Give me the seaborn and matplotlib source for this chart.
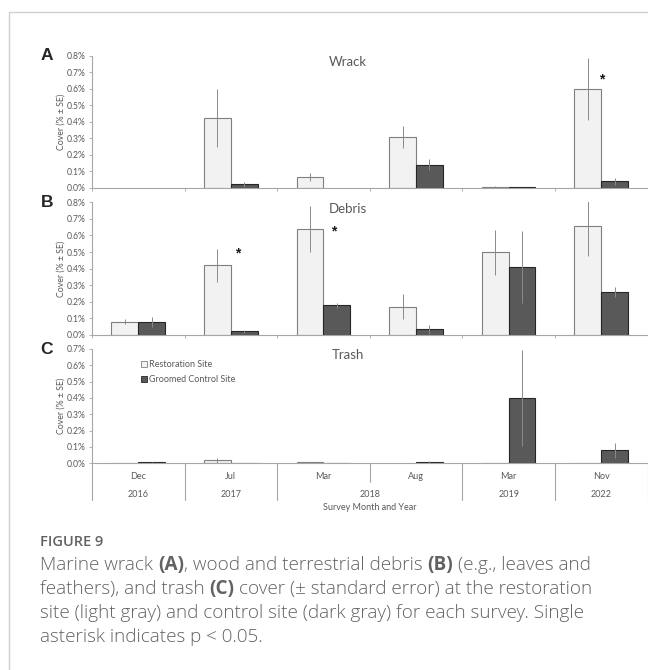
import numpy as np
import pandas as pd
import matplotlib
matplotlib.use("Agg")
import matplotlib.pyplot as plt
import seaborn as sns
from matplotlib.ticker import FuncFormatter, FixedLocator, MultipleLocator
from matplotlib.lines import Line2D
from matplotlib.transforms import blended_transform_factory

# ---------------- data ----------------
months = ["Dec", "Jul", "Mar", "Aug", "Mar", "Nov"]
years = ["2016", "2017", "2018", "2018", "2019", "2022"]
sites = ["Restoration Site", "Groomed Control Site"]

wrack_rest = [0.0, 0.423, 0.067, 0.307, 0.007, 0.600]
wrack_rest_se = [0.0, 0.175, 0.024, 0.068, 0.003, 0.188]
wrack_ctrl = [0.0, 0.020, 0.0, 0.140, 0.004, 0.038]
wrack_ctrl_se = [0.0, 0.014, 0.0, 0.035, 0.002, 0.022]

debris_rest = [0.080, 0.420, 0.639, 0.171, 0.498, 0.659]
debris_rest_se = [0.014, 0.100, 0.136, 0.075, 0.137, 0.183]
debris_ctrl = [0.080, 0.022, 0.179, 0.036, 0.410, 0.259]
debris_ctrl_se = [0.030, 0.008, 0.015, 0.027, 0.216, 0.030]

trash_rest = [0.003, 0.018, 0.006, 0.0, 0.003, 0.003]
trash_rest_se = [0.001, 0.016, 0.002, 0.0, 0.001, 0.001]
trash_ctrl = [0.006, 0.003, 0.003, 0.008, 0.400, 0.080]
trash_ctrl_se = [0.002, 0.001, 0.001, 0.004, 0.295, 0.045]

panel_titles = ["Wrack", "Debris", "Trash"]
panel_letters = ["A", "B", "C"]
panel_ymax = [0.8, 0.8, 0.7]

# significance markers: (panel index, survey index, x shift, y height)
sig_marks = [(0, 5, 0.01, 0.657), (1, 1, 0.07, 0.49), (1, 2, 0.11, 0.627)]

# ---------------- style ----------------
sns.set_style("white")
plt.rcParams["font.family"] = ["Lato", "DejaVu Sans"]

LIGHT = "#f2f2f2"
DARK = "#595959"
LIGHT_EDGE = "#7f7f7f"
DARK_EDGE = "#262626"
AXC = "#a6a6a6"
TXT = "#595959"

W, H = 648, 670
fig = plt.figure(figsize=(W / 100, H / 100), dpi=100)


def fx(px):
    return px / W


def fy(py):
    return 1 - py / H


left_px, right_px = 92, 647.5
panel_px = [(55.7, 187.7), (202.3, 335.0), (349.0, 463.3)]

keys = [f"{m} {y}" for m, y in zip(months, years)]
series = [
    (wrack_rest, wrack_rest_se, wrack_ctrl, wrack_ctrl_se),
    (debris_rest, debris_rest_se, debris_ctrl, debris_ctrl_se),
    (trash_rest, trash_rest_se, trash_ctrl, trash_ctrl_se),
]

axes = []
for i, ((top, bot), (r, rse, c, cse)) in enumerate(zip(panel_px, series)):
    ax = fig.add_axes([fx(left_px), fy(bot), fx(right_px) - fx(left_px), fy(top) - fy(bot)])
    axes.append(ax)
    df = pd.DataFrame({
        "survey": keys * 2,
        "site": [sites[0]] * len(keys) + [sites[1]] * len(keys),
        "cover": list(r) + list(c),
    })
    sns.barplot(data=df, x="survey", y="cover", hue="site", order=keys,
                hue_order=sites, palette=[LIGHT, DARK], width=0.58,
                errorbar=None, saturation=1, ax=ax, legend=(i == 2))
    for cont, ecol, means, ses in zip(ax.containers, [LIGHT_EDGE, DARK_EDGE], [r, c], [rse, cse]):
        xs, ms, es = [], [], []
        for bar, m, s in zip(cont, means, ses):
            bar.set_edgecolor(ecol)
            bar.set_linewidth(0.8 if m > 0 else 0)
            if s > 0:
                xs.append(bar.get_x() + bar.get_width() / 2)
                ms.append(m)
                es.append(s)
        ax.errorbar(xs, ms, yerr=es, fmt="none", ecolor="#8a8a8a", elinewidth=0.7,
                    capsize=0, zorder=5)

    ax.set_xlim(-0.5, len(keys) - 0.5)
    ax.set_ylim(0, panel_ymax[i])
    ax.yaxis.set_major_locator(MultipleLocator(0.1))
    ax.yaxis.set_major_formatter(FuncFormatter(lambda v, p: f"{v:.1f}%"))
    ax.xaxis.set_major_locator(FixedLocator(np.arange(-0.5, len(keys))))
    ax.set_xticklabels([])
    ax.set_xlabel("")
    ax.set_ylabel("Cover (% ± SE)", fontsize=6.3, color=TXT)
    ax.yaxis.set_label_coords(-0.047, 0.5)
    for s in ["top", "right"]:
        ax.spines[s].set_visible(False)
    for s in ["left", "bottom"]:
        ax.spines[s].set_color(AXC)
        ax.spines[s].set_linewidth(0.8)
    ax.tick_params(axis="y", length=2.5, width=0.6, color=AXC, labelsize=6.2,
                   labelcolor=TXT, pad=2, left=True)
    ax.tick_params(axis="x", length=2.5 if i < 2 else 0, width=0.6, color=AXC, bottom=True)
    ax.text(0.46, 0.95, panel_titles[i], transform=ax.transAxes, ha="center",
            va="center", fontsize=9.5, color=TXT)
    fig.text(fx(46.7), fy(top), panel_letters[i], ha="center", va="center",
             fontsize=12.5, fontweight="bold", family=["Liberation Sans", "DejaVu Sans"])

# significance asterisks
for pi, si, dx, yy in sig_marks:
    axes[pi].text(si + dx, yy, "*", ha="center", va="center", fontsize=10,
                  fontweight="bold", color="#1a1a1a",
                  family=["Liberation Sans", "DejaVu Sans"])

# legend in panel C
axC = axes[2]
old = axC.get_legend()
handles = old.legend_handles
for h, ec in zip(handles, [LIGHT_EDGE, DARK_EDGE]):
    h.set_edgecolor(ec)
    h.set_linewidth(0.6)
labels = [t.get_text() for t in old.get_texts()]
old.remove()
leg = axC.legend(handles, labels, loc="upper left", bbox_to_anchor=(0.088, 0.905),
                 frameon=False, fontsize=6.5, handlelength=0.7, handleheight=0.7,
                 handletextpad=0.25, labelspacing=0.7, borderpad=0, borderaxespad=0)
for t in leg.get_texts():
    t.set_color(TXT)

# multi-level category axis for panel C
trans = blended_transform_factory(axC.transData, axC.transAxes)
ax_h = panel_px[2][1] - panel_px[2][0]
base = panel_px[2][1]


def yfrac(py):
    return (base - py) / ax_h


y_month, y_year, y_lab = yfrac(476.7), yfrac(494.3), yfrac(508.0)
y_short, y_long = yfrac(481.7), yfrac(500.0)
for k, m in enumerate(months):
    axC.text(k, y_month, m, transform=trans, ha="center", va="center", fontsize=6.5, color=TXT)
# year spans
spans = []
start = 0
for k in range(1, len(years) + 1):
    if k == len(years) or years[k] != years[start]:
        spans.append((start, k - 1, years[start]))
        start = k
for a, b, yr in spans:
    axC.text((a + b) / 2, y_year, yr, transform=trans, ha="center", va="center",
             fontsize=6.5, color=TXT)
for k in range(len(months) + 1):
    bx = k - 0.5
    is_year_boundary = (k == 0 or k == len(years) or years[k] != years[k - 1])
    y_end = y_long if is_year_boundary else y_short
    axC.add_line(Line2D([bx, bx], [0, y_end], transform=trans, color=AXC, lw=0.8,
                        clip_on=False))
axC.text(2.5, y_lab, "Survey Month and Year", transform=trans, ha="center", va="center",
         fontsize=6.5, color=TXT)

# figure border
fig.add_artist(Line2D([fx(8.5), fx(8.5), 1.0], [0.0, fy(11.5), fy(11.5)],
                      transform=fig.transFigure, color="#d0d0d0", lw=1.0))

# caption
CAP = ["Open Sans", "DejaVu Sans"]
CAPC = "#626262"
fig.text(fx(40), fy(542), "FIGURE 9", ha="left", va="center", fontsize=10.5,
         fontweight="semibold", color=CAPC, family=CAP)

renderer = fig.canvas.get_renderer()
cap_size = 13.6
cap_weight = "light"


def width_px(s, weight):
    t = fig.text(0, 0, s, fontsize=cap_size, fontweight=weight, family=CAP)
    w = t.get_window_extent(renderer).width
    t.remove()
    return w


space_w = width_px("x x", cap_weight) - width_px("xx", cap_weight)

caption_lines = [
    [("Marine wrack", "n"), ("(A)", "b"), (", wood and terrestrial debris", "nj"),
     ("(B)", "b"), ("(e.g., leaves and", "n")],
    [("feathers), and trash", "n"), ("(C)", "b"),
     ("cover (± standard error) at the restoration", "n")],
    [("site (light gray) and control site (dark gray) for each survey. Single", "n")],
    [("asterisk indicates p < 0.05.", "n")],
]
line_y = [565, 589, 613, 637]
for parts, ly in zip(caption_lines, line_y):
    x = 40.0
    for j, (txt, kind) in enumerate(parts):
        if kind == "nj" and x > 40.0:
            x -= space_w  # glue comma to preceding bold part
        wt = "bold" if kind == "b" else cap_weight
        t = fig.text(fx(x), fy(ly), txt, ha="left", va="center", fontsize=cap_size,
                     fontweight=wt, color=CAPC, family=CAP)
        x += t.get_window_extent(renderer).width + space_w

fig.savefig("out.png", dpi=100)
